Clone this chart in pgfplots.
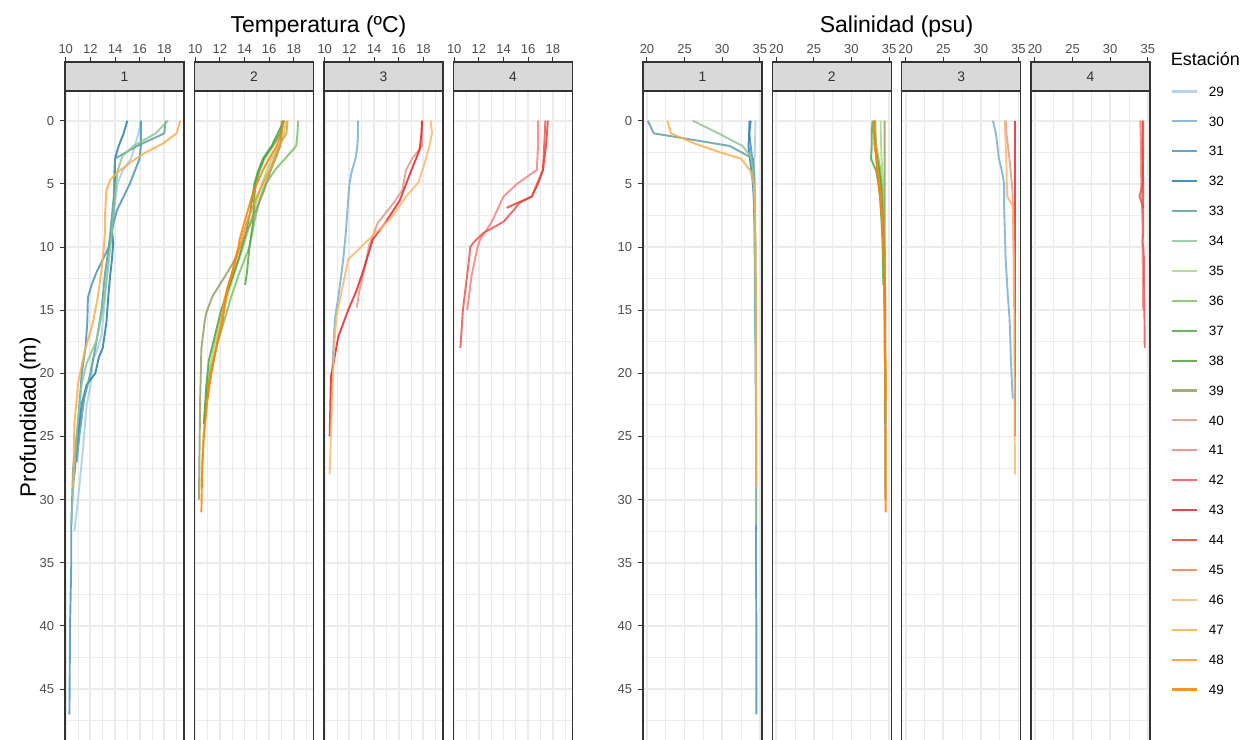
\documentclass[border=0pt]{standalone}
\usepackage{pgfplots}
\usepackage{pgfplotstable}
\pgfplotsset{compat=1.18}
\usepackage{fontspec}
\setmainfont{Liberation Sans}
\newcommand\px{0.6pt}
\newcommand\ticksize{\fontsize{7.8}{9}\selectfont}
\newcommand\stripsize{\fontsize{8.3}{10}\selectfont}
\definecolor{grey92}{HTML}{EBEBEB}
\definecolor{grey85}{HTML}{D9D9D9}
\definecolor{grey20}{HTML}{333333}
\definecolor{grey30}{HTML}{4D4D4D}
\definecolor{c29}{RGB}{166,206,227}
\definecolor{c30}{RGB}{119,176,211}
\definecolor{c31}{RGB}{72,146,194}
\definecolor{c32}{RGB}{38,125,178}
\definecolor{c33}{RGB}{90,161,163}
\definecolor{c34}{RGB}{141,197,149}
\definecolor{c35}{RGB}{165,217,129}
\definecolor{c36}{RGB}{121,195,96}
\definecolor{c37}{RGB}{76,173,63}
\definecolor{c38}{RGB}{81,159,60}
\definecolor{c39}{RGB}{151,157,99}
\definecolor{c40}{RGB}{221,155,137}
\definecolor{c41}{RGB}{246,128,128}
\definecolor{c42}{RGB}{238,84,84}
\definecolor{c43}{RGB}{229,39,41}
\definecolor{c44}{RGB}{234,67,49}
\definecolor{c45}{RGB}{243,125,78}
\definecolor{c46}{RGB}{252,183,107}
\definecolor{c47}{RGB}{254,172,78}
\definecolor{c48}{RGB}{254,149,39}
\definecolor{c49}{RGB}{255,127,0}

% ---------------- data: depth (m), temperature (C), salinity (psu)
\pgfplotstableread{
d T S
0 16.1 34.4
1 15.9 34.4
2 15.6 34.35
3 15.3 34.3
4 14.6 34.3
5 14.2 34.35
8 13.8 34.4
10 13.5 34.4
14 13.2 34.45
17 12.9 34.5
18 12.6 34.5
19 12.2 34.5
21 12.0 34.5
22.5 11.7 34.5
26 11.4 34.55
30 11.0 34.55
32.5 10.7 34.55
}\stA
\pgfplotstableread{
d T S
0 12.7 31.6
1 12.7 32.0
2 12.65 32.2
3 12.5 32.4
4 12.2 32.8
5 12.0 33.1
7 11.85 33.1
9 11.7 33.2
11 11.5 33.3
12.5 11.3 33.45
14 11.1 33.6
15.5 10.85 33.8
17 10.75 33.9
19 10.65 34.0
21 10.6 34.15
22 10.55 34.25
}\stB
\pgfplotstableread{
d T S
0 16.1 33.6
1 16.1 33.6
2 16.1 33.8
3 16.0 34.0
4 15.6 34.1
5 15.2 34.2
6 14.7 34.2
7 14.2 34.25
8 13.9 34.3
9 13.7 34.3
10 13.5 34.3
11 13.0 34.35
12 12.5 34.35
13 12.1 34.4
14 11.8 34.4
16 11.75 34.4
18 11.6 34.45
20 11.3 34.45
24 11.0 34.5
27.5 10.6 34.5
32 10.45 34.5
35 10.45 34.5
40 10.35 34.55
47 10.3 34.55
}\stC
\pgfplotstableread{
d T S
0 15.0 33.8
1 14.7 33.6
2 14.3 33.5
3 14.0 33.7
5 14.0 34.1
7 13.9 34.3
8.6 13.75 34.35
9.7 13.85 34.4
11 13.75 34.4
12.3 13.6 34.4
14 13.45 34.45
16 13.3 34.45
18 13.0 34.5
18.7 12.7 34.5
20 12.4 34.5
20.9 11.7 34.5
22.4 11.3 34.5
25 11.0 34.5
27 10.8 34.5
28.5 10.65 34.5
}\stD
\pgfplotstableread{
d T S
0 18.1 20.1
1 18.0 20.9
2 15.8 31.0
3 14.0 34.1
4 13.95 34.2
6 13.9 34.3
8 13.7 34.35
10 13.5 34.4
12 13.2 34.4
15 12.9 34.45
18 12.4 34.5
20 12.0 34.5
22 11.5 34.5
25 11.1 34.5
27 10.9 34.5
}\stE
\pgfplotstableread{
d T S
0 18.3 26.1
1 17.3 29.5
2 15.5 32.7
2.8 14.6 33.8
4 14.2 34.1
5 14.1 34.2
7 13.9 34.3
9.3 13.7 34.35
12 13.4 34.4
15 13.0 34.45
17.4 12.5 34.45
19.2 11.7 34.5
20.8 11.3 34.5
23.6 11.0 34.5
27.5 10.7 34.5
32 10.45 34.5
}\stF
\pgfplotstableread{
d T S
0 17.4 33.9
1 17.2 33.9
2 16.8 33.95
3 16.2 34.0
4 15.8 34.1
5 15.4 34.2
6 15.1 34.25
8 14.5 34.3
10 13.9 34.35
12 13.2 34.4
14 12.6 34.4
16 12.0 34.45
18 11.5 34.45
20 11.1 34.5
23 10.8 34.5
26 10.6 34.5
29 10.5 34.5
}\stG
\pgfplotstableread{
d T S
0 18.35 33.2
1 18.3 33.2
2 18.2 33.3
3 17.3 33.6
3.75 16.6 33.8
5 15.7 34.0
6 15.3 34.1
8 14.8 34.2
10 14.4 34.3
12 13.6 34.35
14 12.9 34.4
16 12.3 34.45
18 11.7 34.45
20 11.2 34.5
22 10.9 34.5
}\stH
\pgfplotstableread{
d T S
0 17.1 32.8
1 16.9 32.7
2 16.3 32.7
3 15.6 32.6
4 15.2 33.3
5 14.9 33.6
6 14.8 33.8
8 14.7 34.0
10 14.4 34.15
12 14.2 34.2
13 14.05 34.25
}\stI
\pgfplotstableread{
d T S
0 17.2 33.0
1 16.7 33.0
2 16.2 33.1
3 15.5 33.4
4 15.1 33.7
5 14.8 33.9
7 14.5 34.1
9 14.1 34.2
11 13.5 34.3
13 12.8 34.35
15 12.1 34.4
17 11.6 34.45
19 11.1 34.45
21 10.9 34.5
24 10.7 34.5
}\stJ
\pgfplotstableread{
d T S
0 17.0 34.4
1 17.0 34.4
2 16.9 34.4
2.8 16.6 34.4
4 16.1 34.4
5.5 15.6 34.4
8.1 14.5 34.4
11.3 13.05 34.45
12.5 12.3 34.45
13.9 11.4 34.5
15.2 10.9 34.5
16 10.75 34.5
18 10.5 34.5
22 10.4 34.5
26 10.35 34.5
30 10.3 34.5
}\stK
\pgfplotstableread{
d T S
0 17.9 33.3
1 17.9 33.4
2 17.9 33.6
3 17.1 33.8
3.9 16.6 33.95
5.5 16.3 34.2
6.5 15.6 34.25
8.1 14.3 34.3
9.9 13.6 34.35
12.3 13.1 34.4
13.5 12.8 34.4
14.8 12.6 34.4
}\stL
\pgfplotstableread{
d T S
0 16.8 34.0
2 16.8 34.1
3.9 16.7 34.1
5 15.1 34.15
6 14.0 34.2
8.1 13.0 34.3
9.4 12.1 34.3
10 11.9 34.3
12.3 11.4 34.35
15 11.05 34.4
}\stM
\pgfplotstableread{
d T S
0 17.4 34.4
2 17.3 34.4
3.9 17.2 34.35
5 16.8 34.3
6 16.3 33.9
6.5 15.3 34.2
7 14.9 34.4
8 14.0 34.4
8.9 12.35 34.4
9.6 11.6 34.3
10 11.3 34.4
11 11.2 34.5
15 10.7 34.55
18 10.5 34.6
}\stN
\pgfplotstableread{
d T S
0 17.9 34.5
1 17.85 34.5
2.3 17.7 34.5
4 17.0 34.5
6.3 16.1 34.5
8.1 14.9 34.5
9.4 13.9 34.5
11.5 13.25 34.5
13.4 12.6 34.5
15 11.9 34.5
17.1 11.1 34.5
20.3 10.5 34.5
25 10.4 34.5
}\stO
\pgfplotstableread{
d T S
0 17.6 34.3
2 17.45 34.3
3.9 17.2 34.35
6 16.3 34.4
6.9 14.25 34.4
}\stP
\pgfplotstableread{
d T S
0 18.6 33.2
1 18.7 33.25
2 18.5 33.3
3.4 18.1 33.4
4.9 17.6 33.45
6 16.6 33.5
6.7 16.1 34.2
7.8 15.3 34.3
9.7 13.25 34.35
11 11.9 34.4
12.9 11.5 34.4
15.5 10.95 34.45
18 10.75 34.45
22 10.6 34.5
25 10.5 34.5
28 10.4 34.55
}\stQ
\pgfplotstableread{
d T S
0 19.3 22.7
1 19.0 23.2
1.8 17.9 26.3
2.5 16.5 29.7
3 15.7 32.5
4 14.3 33.8
4.7 13.6 34.1
5.5 13.3 34.3
7.3 13.2 34.4
8.6 13.2 34.4
10 13.1 34.45
11.8 12.9 34.45
14 12.6 34.5
16 12.2 34.5
18.4 11.5 34.5
20.8 11.0 34.5
24 10.7 34.55
29 10.6 34.55
}\stR
\pgfplotstableread{
d T S
0 17.5 33.0
1 17.4 33.0
2 16.8 33.1
3 16.4 33.3
4 16.0 33.5
5 15.5 33.7
6 15.0 33.9
7 14.6 34.0
8 14.2 34.1
10 13.6 34.25
12 13.0 34.35
14 12.4 34.4
16 12.1 34.45
18 11.7 34.45
20 11.3 34.5
22 11.0 34.5
}\stS
\pgfplotstableread{
d T S
0 17.2 33.1
1 17.0 33.1
2 16.6 33.2
3 16.0 33.3
3.9 15.5 33.4
5 15.0 33.6
6 14.6 33.8
8 14.0 34.1
9.4 13.6 34.25
10 13.5 34.3
12 13.0 34.35
13.3 12.6 34.4
16 12.2 34.45
17.5 11.8 34.45
19 11.5 34.5
21 11.1 34.5
23 10.9 34.5
25 10.7 34.55
28 10.55 34.55
31 10.5 34.55
}\stT

\pgfplotsset{
  base/.style={scale only axis, anchor=north west, width=119*\px, height=653*\px,
    y dir=reverse, ymin=-2.35, ymax=49.35,
    ytick={0,5,...,45}, minor ytick={2.5,7.5,...,47.5},
    grid=both, major grid style={grey92, line width=1.1pt},
    minor grid style={grey92, line width=0.55pt},
    axis line style={grey20, line width=0.8pt},
    xticklabels={}, xtick style={draw=none},
    minor tick length=0pt, tick align=outside, major tick length=5*\px,
    ytick style={grey20, line width=0.6pt}, ytick pos=left,
    yticklabel style={font=\ticksize, text=grey30},
    /pgf/number format/assume math mode=true,
    every axis plot/.append style={line width=1.15pt, opacity=0.85}},
  inner/.style={yticklabels={}, ytick style={draw=none}},
  temp/.style={xmin=9.94, xmax=19.6, xtick={10,12,...,18}, minor xtick={11,13,...,19}},
  sal/.style={xmin=19.47, xmax=35.3, xtick={20,25,30,35}, minor xtick={22.5,27.5,32.5}},
  strip/.style={scale only axis, anchor=south west, width=119*\px, height=29*\px,
    ymin=0, ymax=1, ytick=\empty,
    axis background/.style={fill=grey85},
    axis line style={grey20, line width=0.8pt},
    xtick pos=right, xticklabel pos=right, tick align=outside,
    major tick length=5*\px, minor tick length=0pt,
    xtick style={grey20, line width=0.6pt},
    xticklabel style={font=\ticksize, text=grey30, yshift=-2.5*\px},
    /pgf/number format/assume math mode=true},
}

\begin{document}
\begin{tikzpicture}
\path[use as bounding box] (0,0) rectangle (1252*\px,-739*\px);

% ===== Temperatura =====
\begin{axis}[base, temp, at={(65*\px,-91*\px)}]
\addplot[c29] table[x=T,y=d]{\stA};
\addplot[c31] table[x=T,y=d]{\stC};
\addplot[c32] table[x=T,y=d]{\stD};
\addplot[c33] table[x=T,y=d]{\stE};
\addplot[c34] table[x=T,y=d]{\stF};
\addplot[c47] table[x=T,y=d]{\stR};
\end{axis}
\begin{axis}[strip, temp, at={(65*\px,-91*\px)}]
\node[font=\stripsize, text=grey20] at (axis description cs:0.5,0.5) {1};
\end{axis}

\begin{axis}[base, inner, temp, at={(194.5*\px,-91*\px)}]
\addplot[c35] table[x=T,y=d]{\stG};
\addplot[c36] table[x=T,y=d]{\stH};
\addplot[c37] table[x=T,y=d]{\stI};
\addplot[c38] table[x=T,y=d]{\stJ};
\addplot[c39] table[x=T,y=d]{\stK};
\addplot[c48] table[x=T,y=d]{\stS};
\addplot[c49] table[x=T,y=d]{\stT};
\end{axis}
\begin{axis}[strip, temp, at={(194.5*\px,-91*\px)}]
\node[font=\stripsize, text=grey20] at (axis description cs:0.5,0.5) {2};
\end{axis}

\begin{axis}[base, inner, temp, at={(324*\px,-91*\px)}]
\addplot[c30] table[x=T,y=d]{\stB};
\addplot[c40] table[x=T,y=d]{\stL};
\addplot[c43] table[x=T,y=d]{\stO};
\addplot[c46] table[x=T,y=d]{\stQ};
\end{axis}
\begin{axis}[strip, temp, at={(324*\px,-91*\px)}]
\node[font=\stripsize, text=grey20] at (axis description cs:0.5,0.5) {3};
\end{axis}

\begin{axis}[base, inner, temp, at={(453.5*\px,-91*\px)}]
\addplot[c41] table[x=T,y=d]{\stM};
\addplot[c42] table[x=T,y=d]{\stN};
\addplot[c44] table[x=T,y=d]{\stP};
\end{axis}
\begin{axis}[strip, temp, at={(453.5*\px,-91*\px)}]
\node[font=\stripsize, text=grey20] at (axis description cs:0.5,0.5) {4};
\end{axis}

% ===== Salinidad =====
\begin{axis}[base, sal, at={(643*\px,-91*\px)}]
\addplot[c29] table[x=S,y=d]{\stA};
\addplot[c31] table[x=S,y=d]{\stC};
\addplot[c32] table[x=S,y=d]{\stD};
\addplot[c33] table[x=S,y=d]{\stE};
\addplot[c34] table[x=S,y=d]{\stF};
\addplot[c47] table[x=S,y=d]{\stR};
\end{axis}
\begin{axis}[strip, sal, at={(643*\px,-91*\px)}]
\node[font=\stripsize, text=grey20] at (axis description cs:0.5,0.5) {1};
\end{axis}

\begin{axis}[base, inner, sal, at={(772.3*\px,-91*\px)}]
\addplot[c35] table[x=S,y=d]{\stG};
\addplot[c36] table[x=S,y=d]{\stH};
\addplot[c37] table[x=S,y=d]{\stI};
\addplot[c38] table[x=S,y=d]{\stJ};
\addplot[c39] table[x=S,y=d]{\stK};
\addplot[c48] table[x=S,y=d]{\stS};
\addplot[c49] table[x=S,y=d]{\stT};
\end{axis}
\begin{axis}[strip, sal, at={(772.3*\px,-91*\px)}]
\node[font=\stripsize, text=grey20] at (axis description cs:0.5,0.5) {2};
\end{axis}

\begin{axis}[base, inner, sal, at={(901.7*\px,-91*\px)}]
\addplot[c30] table[x=S,y=d]{\stB};
\addplot[c40] table[x=S,y=d]{\stL};
\addplot[c43] table[x=S,y=d]{\stO};
\addplot[c46] table[x=S,y=d]{\stQ};
\end{axis}
\begin{axis}[strip, sal, at={(901.7*\px,-91*\px)}]
\node[font=\stripsize, text=grey20] at (axis description cs:0.5,0.5) {3};
\end{axis}

\begin{axis}[base, inner, sal, at={(1031*\px,-91*\px)}]
\addplot[c41] table[x=S,y=d]{\stM};
\addplot[c42] table[x=S,y=d]{\stN};
\addplot[c44] table[x=S,y=d]{\stP};
\end{axis}
\begin{axis}[strip, sal, at={(1031*\px,-91*\px)}]
\node[font=\stripsize, text=grey20] at (axis description cs:0.5,0.5) {4};
\end{axis}

% ===== legend (keys) =====
\node[font=\fontsize{10.8}{13}\selectfont, anchor=west, inner sep=0pt] at (1170.5*\px,-59*\px) {Estación};
\foreach \i in {29,...,49} {
  \pgfmathsetmacro{\yy}{-(91.5+(\i-29)*29.9)}
  \draw[c\i, line width=1.3pt, opacity=0.85] (1172*\px,\yy*\px) -- (1197*\px,\yy*\px);
  \node[font=\fontsize{8.1}{10}\selectfont, anchor=west, inner sep=0pt] at (1208.5*\px,\yy*\px) {\i};
}

% ===== titles =====
\node[font=\fontsize{13.8}{16}\selectfont] at (318.5*\px,-27*\px) {Temperatura (ºC)};
\node[font=\fontsize{13.8}{16}\selectfont] at (896.5*\px,-27*\px) {Salinidad (psu)};
\node[font=\fontsize{13.4}{16}\selectfont, rotate=90] at (30*\px,-417*\px) {Profundidad (m)};
\end{tikzpicture}
\end{document}
